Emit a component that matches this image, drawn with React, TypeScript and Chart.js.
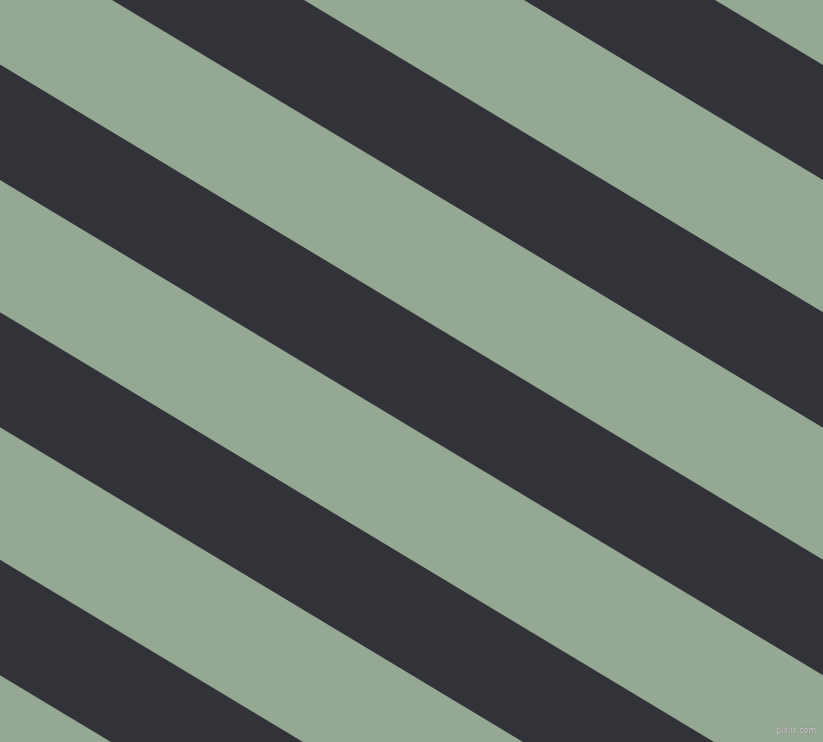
import React, { useEffect, useRef } from "react";
import { Chart, registerables } from "chart.js";

Chart.register(...registerables);

// Plot extent (pixel-like units of the picture)
const xRange = [0, 823];
const yRange = [0, 742];

// Dark stripes: x where each stripe meets the top edge (y = 0) and the bottom edge (y = 742)
const stripeTopLeft = [-1122, -710, -299, 112, 524];
const stripeTopRight = [-930, -519, -107, 304, 715];
const stripeBottomLeft = [111, 523, 934, 1345, 1757];
const stripeBottomRight = [303, 714, 1126, 1537, 1948];

const greenColor = "#95a893";
const darkColor = "#323338";
const watermark = "pixlis.com";

export default function App() {
  const canvasRef = useRef<HTMLCanvasElement | null>(null);

  useEffect(() => {
    document.body.style.margin = "0";
    const canvas = canvasRef.current;
    if (!canvas) return;

    const datasets = stripeTopLeft.map((tl, i) => ({
      label: "stripe " + (i + 1),
      data: [
        { x: tl, y: yRange[0] },
        { x: stripeTopRight[i], y: yRange[0] },
        { x: stripeBottomRight[i], y: yRange[1] },
        { x: stripeBottomLeft[i], y: yRange[1] },
        { x: tl, y: yRange[0] },
      ],
      borderWidth: 0,
      borderColor: darkColor,
      backgroundColor: darkColor,
      pointRadius: 0,
      tension: 0,
      fill: "shape" as const,
    }));

    const bgPlugin = {
      id: "bg",
      beforeDraw(chart: any) {
        const { ctx, width, height } = chart;
        ctx.save();
        ctx.fillStyle = greenColor;
        ctx.fillRect(0, 0, width, height);
        ctx.restore();
      },
    };

    const chart = new Chart(canvas, {
      type: "line",
      data: { datasets },
      options: {
        animation: false,
        responsive: false,
        maintainAspectRatio: false,
        devicePixelRatio: 1,
        layout: { padding: 0 },
        plugins: {
          legend: { display: false },
          tooltip: { enabled: false },
          title: { display: false },
        },
        scales: {
          x: { type: "linear", min: xRange[0], max: xRange[1], display: false },
          y: { type: "linear", min: yRange[0], max: yRange[1], reverse: true, display: false },
        },
      },
      plugins: [bgPlugin],
    });

    return () => chart.destroy();
  }, []);

  return (
    <div style={{ position: "relative", width: 823, height: 742, overflow: "hidden" }}>
      <canvas ref={canvasRef} width={823} height={742} style={{ display: "block", width: 823, height: 742 }} />
      <span
        style={{
          position: "absolute",
          left: 776,
          top: 726,
          fontFamily: "DejaVu Sans, sans-serif",
          fontSize: 8,
          lineHeight: "10px",
          color: "#d4d4d4",
          textShadow: "0 0 1px #555",
        }}
      >
        {watermark}
      </span>
    </div>
  );
}
